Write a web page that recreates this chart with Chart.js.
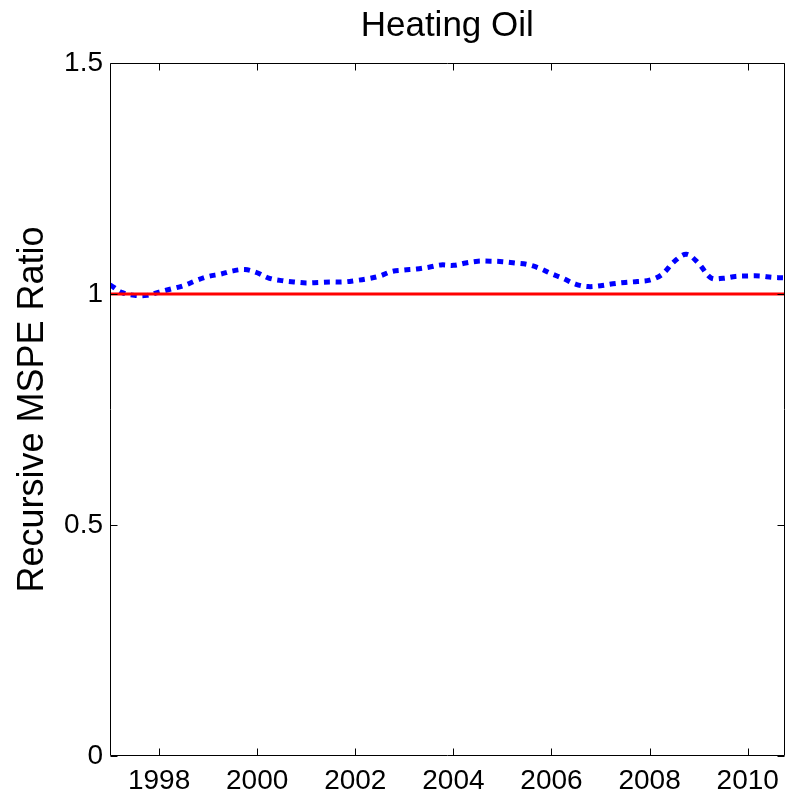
<!DOCTYPE html>
<html>
<head>
<meta charset="utf-8">
<script src="https://cdn.jsdelivr.net/npm/chart.js@4"></script>
<style>
html,body{margin:0;padding:0;background:#fff;}
#wrap{width:787px;height:792px;}
</style>
</head>
<body>
<div id="wrap"><canvas id="c" width="787" height="792"></canvas></div>
<script>
const chartTitle = "Heating Oil";
const yAxisTitle = "Recursive MSPE Ratio";
const periods = [
  1997.00,1997.25,1997.50,1997.75,1998.00,1998.25,1998.50,1998.75,
  1999.00,1999.25,1999.50,1999.75,2000.00,2000.25,2000.50,2000.75,
  2001.00,2001.25,2001.50,2001.75,2002.00,2002.25,2002.50,2002.75,
  2003.00,2003.25,2003.50,2003.75,2004.00,2004.25,2004.50,2004.75,
  2005.00,2005.25,2005.50,2005.75,2006.00,2006.25,2006.50,2006.75,
  2007.00,2007.25,2007.50,2007.75,2008.00,2008.25,2008.50,2008.75,
  2009.00,2009.25,2009.50,2009.75,2010.00,2010.25,2010.50,2010.75
];
const mspeRatio = [
  1.020,1.003,0.997,0.997,1.004,1.011,1.018,1.029,
  1.038,1.043,1.050,1.053,1.046,1.034,1.029,1.026,
  1.024,1.025,1.026,1.026,1.029,1.033,1.039,1.049,
  1.052,1.054,1.058,1.063,1.062,1.067,1.071,1.071,
  1.070,1.067,1.064,1.056,1.044,1.033,1.021,1.016,
  1.018,1.022,1.025,1.027,1.030,1.042,1.070,1.086,
  1.066,1.035,1.034,1.038,1.039,1.039,1.036,1.035
];
const refLineX = [1997.00, 2010.75];
const refLineY = [1, 1];
const xTickValues = [1998, 2000, 2002, 2004, 2006, 2008, 2010];
const xTickLabels = ["1998", "2000", "2002", "2004", "2006", "2008", "2010"];
const yTickValues = [0, 0.5, 1, 1.5];
const yTickLabels = ["0", "0.5", "1", "1.5"];

const FONT = "'Liberation Sans', Arial, Helvetica, sans-serif";

const boxPlugin = {
  id: 'matlabBox',
  afterDatasetsDraw(chart) {
    const ctx = chart.ctx;
    const a = chart.chartArea;
    const xs = chart.scales.x, ys = chart.scales.y;
    const L = Math.round(a.left) + 0.5, R = Math.round(a.right) - 0.5;
    const T = Math.round(a.top) + 0.5, B = Math.round(a.bottom) - 0.5;
    ctx.save();
    ctx.strokeStyle = '#000';
    ctx.lineWidth = 1;
    ctx.beginPath();
    ctx.rect(L, T, R - L, B - T);
    const tl = 7;
    xTickValues.forEach(v => {
      const px = Math.round(xs.getPixelForValue(v)) + 0.5;
      ctx.moveTo(px, B); ctx.lineTo(px, B - tl);
      ctx.moveTo(px, T); ctx.lineTo(px, T + tl);
    });
    yTickValues.forEach(v => {
      const py = Math.round(ys.getPixelForValue(v)) + 0.5;
      ctx.moveTo(L, py); ctx.lineTo(L + tl, py);
      ctx.moveTo(R, py); ctx.lineTo(R - tl, py);
    });
    ctx.stroke();
    ctx.restore();
  }
};

new Chart(document.getElementById('c'), {
  type: 'line',
  data: {
    datasets: [
      {
        label: 'Benchmark',
        data: refLineX.map((x, i) => ({x: x, y: refLineY[i]})),
        borderColor: '#ff0000',
        borderWidth: 3,
        pointRadius: 0,
        tension: 0,
        fill: false
      },
      {
        label: 'MSPE Ratio',
        data: periods.map((x, i) => ({x: x, y: mspeRatio[i]})),
        borderColor: '#0000ff',
        borderWidth: 5,
        borderDash: [6, 5.7],
        borderCapStyle: 'butt',
        pointRadius: 0,
        tension: 0.35,
        fill: false
      }
    ]
  },
  options: {
    responsive: false,
    animation: false,
    devicePixelRatio: 1,
    layout: { padding: { left: 0, right: 2, top: 0, bottom: 0 } },
    plugins: {
      legend: { display: false },
      tooltip: { enabled: false },
      title: {
        display: true,
        text: chartTitle,
        fullSize: false,
        color: '#000',
        font: { family: FONT, size: 35, weight: 'normal', lineHeight: 1.2 },
        padding: { top: 5, bottom: 16 }
      }
    },
    scales: {
      x: {
        type: 'linear',
        min: 1997,
        max: 2010.75,
        afterBuildTicks(scale) { scale.ticks = xTickValues.map(v => ({value: v})); },
        afterFit(scale) { scale.height = 36; },
        grid: { display: false, drawTicks: false },
        border: { display: false },
        ticks: {
          color: '#000',
          padding: 8,
          autoSkip: false,
          maxRotation: 0,
          font: { family: FONT, size: 28 },
          callback: (v) => { const i = xTickValues.indexOf(v); return i >= 0 ? xTickLabels[i] : ''; }
        }
      },
      y: {
        type: 'linear',
        min: 0,
        max: 1.5,
        afterBuildTicks(scale) { scale.ticks = yTickValues.map(v => ({value: v})); },
        afterFit(scale) { scale.width = 110; },
        grid: { display: false, drawTicks: false },
        border: { display: false },
        title: {
          display: true,
          text: yAxisTitle,
          color: '#000',
          font: { family: FONT, size: 36, weight: 'normal', lineHeight: 1.2 },
          padding: { top: 11, bottom: 0 }
        },
        ticks: {
          color: '#000',
          padding: 7,
          font: { family: FONT, size: 28 },
          callback: (v) => { const i = yTickValues.indexOf(v); return i >= 0 ? yTickLabels[i] : ''; }
        }
      }
    }
  },
  plugins: [boxPlugin]
});
</script>
</body>
</html>
